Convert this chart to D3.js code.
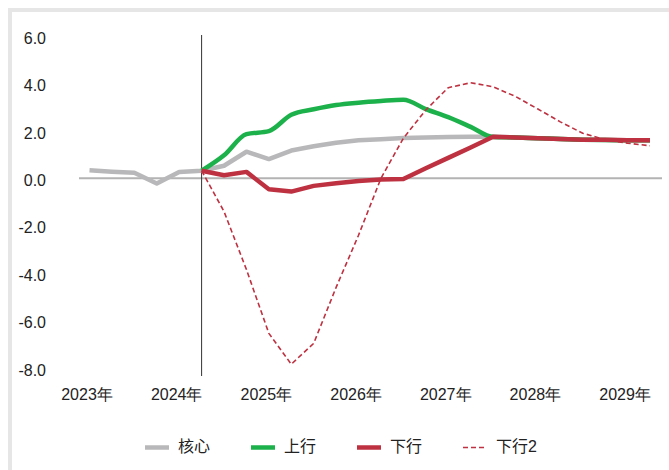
<!DOCTYPE html>
<html>
<head>
<meta charset="utf-8">
<script src="https://cdn.jsdelivr.net/npm/d3@7"></script>
<style>
  body { margin: 0; background: #fff; }
  svg { display: block; font-family: "Liberation Sans", Arial, "Noto Sans CJK SC", sans-serif; }
</style>
</head>
<body>
<div id="chart"></div>
<script>
// quarters 2023Q1 .. 2029Q2
const quarters = [];
for (let yr = 2023; yr <= 2029; yr++) {
    for (let q = 1; q <= 4; q++) {
        if (yr == 2029 && q > 2) break;
        quarters.push(yr + "Q" + q);
    }
}
const years = ["2023", "2024", "2025", "2026", "2027", "2028", "2029"];
const yTicks = [-8, -6, -4, -2, 0, 2, 4, 6];
const seriesNames = ["核心", "上行", "下行", "下行2"];

const core      = [0.34, 0.28, 0.23, -0.22, 0.27, 0.32, 0.53, 1.12, 0.81, 1.17, 1.35, 1.5, 1.6, 1.65, 1.7, 1.72, 1.74, 1.75, 1.75, 1.72, 1.69, 1.66, 1.63, 1.61, 1.6, 1.6];
const upside    = [null, null, null, null, null, 0.32, 0.97, 1.86, 1.99, 2.68, 2.91, 3.09, 3.19, 3.26, 3.31, 2.92, 2.58, 2.17, 1.74, 1.72, 1.69, 1.66, 1.63, 1.61, 1.6, 1.6];
const downside  = [null, null, null, null, null, 0.32, 0.13, 0.27, -0.46, -0.56, -0.32, -0.21, -0.11, -0.05, -0.03, 0.42, 0.86, 1.3, 1.75, 1.72, 1.69, 1.66, 1.63, 1.62, 1.6, 1.6];
const downside2 = [null, null, null, null, null, 0.32, -1.4, -3.85, -6.54, -7.84, -6.96, -4.6, -2.4, 0.0, 1.69, 2.88, 3.82, 4.03, 3.86, 3.45, 2.92, 2.38, 1.9, 1.63, 1.48, 1.37];

const width = 669, height = 470;

const svg = d3.select("#chart")
    .append("svg")
    .attr("width", width)
    .attr("height", height);

// light panel border
svg.append("rect")
    .attr("x", 10).attr("y", 10)
    .attr("width", 700).attr("height", 500)
    .attr("fill", "none")
    .attr("stroke", "#e6e6e6")
    .attr("stroke-width", 4);

let x = d3.scalePoint()
    .domain(quarters)
    .range([89.5, 650]);

let y = d3.scaleLinear()
    .domain([-8, 6])
    .range([368, 36]);

// y axis labels
svg.append("g")
    .attr("transform", "translate(46,0)")
    .call(d3.axisLeft(y).tickValues(yTicks).tickSize(0).tickPadding(0).tickFormat(d => d.toFixed(1)))
    .call(g => g.select(".domain").remove())
    .call(g => g.selectAll("text")
        .attr("dy", "0.45em")
        .attr("font-size", 16)
        .attr("font-family", null)
        .attr("fill", "#222"));

// x axis labels (first quarter of each year)
svg.append("g")
    .attr("transform", "translate(-3,389)")
    .call(d3.axisBottom(x).tickValues(years.map(d => d + "Q1")).tickSize(0).tickPadding(0).tickFormat(d => d.slice(0, 4) + "年"))
    .call(g => g.select(".domain").remove())
    .call(g => g.selectAll("text")
        .attr("font-size", 16)
        .attr("font-family", null)
        .attr("fill", "#222"));

// zero line
svg.append("line")
    .attr("x1", 79).attr("x2", 662)
    .attr("y1", y(0)).attr("y2", y(0))
    .attr("stroke", "#b3b3b3")
    .attr("stroke-width", 2);

// forecast start marker
svg.append("line")
    .attr("x1", x(quarters[5])).attr("x2", x(quarters[5]))
    .attr("y1", 35).attr("y2", 376)
    .attr("stroke", "#333")
    .attr("stroke-width", 1);

const series = [
    { name: seriesNames[0], values: core,      color: "#b8b8ba", width: 4.5, dash: null,  curve: d3.curveLinear },
    { name: seriesNames[1], values: upside,    color: "#1db14b", width: 4.5, dash: null,  curve: d3.curveMonotoneX },
    { name: seriesNames[2], values: downside,  color: "#be3140", width: 4.5, dash: null,  curve: d3.curveLinear },
    { name: seriesNames[3], values: downside2, color: "#be3140", width: 1.6, dash: "5,3", curve: d3.curveLinear }
];

for (let s of series) {
    let line = d3.line()
        .defined(d => d != null)
        .x((d, i) => x(quarters[i]))
        .y(d => y(d))
        .curve(s.curve);

    svg.append("path")
        .datum(s.values)
        .attr("fill", "none")
        .attr("stroke", s.color)
        .attr("stroke-width", s.width)
        .attr("stroke-dasharray", s.dash)
        .attr("stroke-linejoin", "round")
        .attr("d", line);
}

// legend
let legend = svg.selectAll(".legend")
    .data(series)
    .join("g")
    .attr("class", "legend")
    .attr("transform", (d, i) => `translate(${145 + i * 106},0)`);

legend.append("line")
    .attr("x1", 0)
    .attr("x2", d => d.dash ? 22 : 24)
    .attr("y1", 447.5).attr("y2", 447.5)
    .attr("stroke", d => d.color)
    .attr("stroke-width", d => d.dash ? 1.6 : 4.5)
    .attr("stroke-dasharray", d => d.dash);

legend.append("text")
    .attr("x", 33)
    .attr("y", 446)
    .attr("dominant-baseline", "central")
    .attr("font-size", 16)
    .attr("fill", "#222")
    .text(d => d.name);
</script>
</body>
</html>
